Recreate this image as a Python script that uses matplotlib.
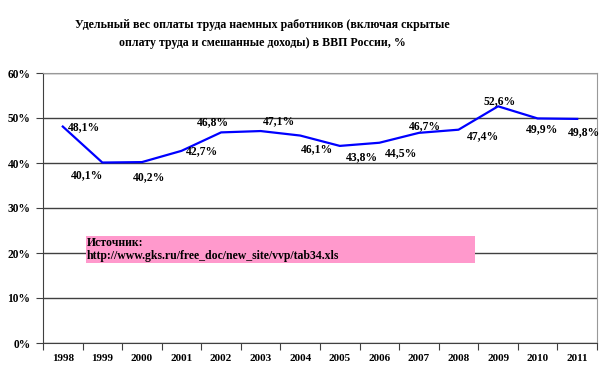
import matplotlib.pyplot as plt
from matplotlib.patches import Rectangle
from matplotlib.ticker import FixedLocator, FuncFormatter

years = [1998, 1999, 2000, 2001, 2002, 2003, 2004, 2005, 2006, 2007, 2008, 2009, 2010, 2011]
share = [48.1, 40.1, 40.2, 42.7, 46.8, 47.1, 46.1, 43.8, 44.5, 46.7, 47.4, 52.6, 49.9, 49.8]
title = ("Удельный вес оплаты труда наемных работников (включая скрытые\n"
         "оплату труда и смешанные доходы) в ВВП России, %")
source = "Источник:\nhttp://www.gks.ru/free_doc/new_site/vvp/tab34.xls"

# label offsets in pixels (dx, dy up)
offsets = [(21, -1), (-15, -13), (7, -15), (21, 0), (-8, 10), (18, 10), (17, -14),
           (22, -11), (22, -10), (6, 7), (25, -6), (2, 5), (4, -11), (7, -13)]

plt.rcParams["font.family"] = ["Liberation Serif", "DejaVu Serif"]
plt.rcParams["font.weight"] = "bold"

fig = plt.figure(figsize=(6.07, 3.78), dpi=100)
W, H = 607, 378
ax = fig.add_axes([43 / W, 1 - 343 / H, (597 - 43) / W, (343 - 73) / H])

x = list(range(len(years)))
ax.plot(x, share, color="#0000FF", lw=1.6, zorder=3)

for xi, v, (dx, dy) in zip(x, share, offsets):
    ax.annotate(f"{v:.1f}%".replace(".", ","), (xi, v), xytext=(dx, dy),
                textcoords="offset pixels", ha="center", va="center",
                fontsize=8.4, fontweight="bold", zorder=4)

ax.set_xlim(-0.5, len(years) - 0.5)
ax.set_ylim(0, 60)
ax.set_yticks(range(0, 61, 10))
ax.yaxis.set_major_formatter(FuncFormatter(lambda v, p: f"{int(v)}%"))
ax.grid(axis="y", color="#404040", lw=1)
ax.set_axisbelow(True)

ax.xaxis.set_major_locator(FixedLocator([i - 0.5 for i in range(len(years) + 1)]))
ax.set_xticklabels([])
ax.xaxis.set_minor_locator(FixedLocator(x))
ax.set_xticklabels([str(y) for y in years], minor=True)
ax.tick_params(axis="x", which="minor", length=0, pad=8, labelsize=8)
ax.tick_params(axis="x", which="major", length=5, color="#404040")
ax.tick_params(axis="y", length=5, color="#404040", labelsize=8.3, pad=4)

for s in ["top", "right"]:
    ax.spines[s].set_color("#999999")
ax.spines["left"].set_color("#404040")
ax.spines["bottom"].set_color("#404040")

# source box
ax.add_patch(Rectangle((0.587, 17.8), 10.42 - 0.587, 6.0, fc="#FF99CC", ec="none", zorder=2))
ax.text(0.61, 20.8, source, fontsize=8.5, fontweight="bold",
        va="center", ha="left", linespacing=1.1, zorder=3)

fig.text(262 / W, 1 - 34 / H, title, ha="center", va="center", multialignment="center",
         fontsize=8.6, fontweight="bold", linespacing=1.75)

fig.savefig("out.png", dpi=100)
